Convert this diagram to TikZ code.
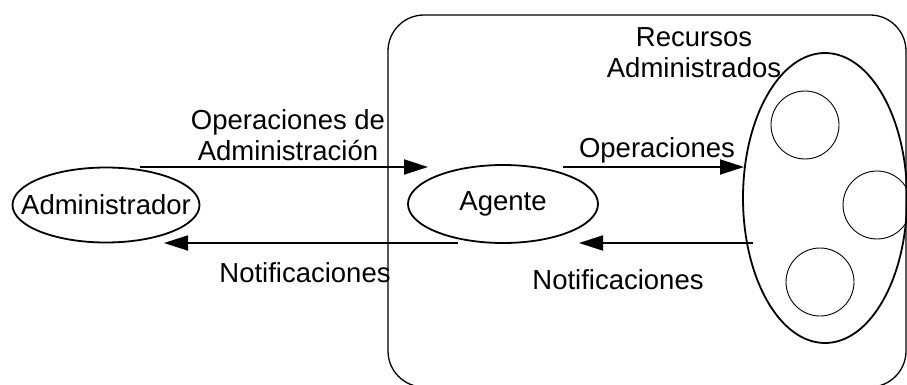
\documentclass[tikz,border=0pt]{standalone}
\usepackage{fontspec}
\setmainfont{Liberation Sans}
\usetikzlibrary{shapes.geometric,arrows.meta}
\begin{document}
\begin{tikzpicture}[x=1pt,y=-1pt,
  lbl/.style={font=\fontsize{27.5}{31}\selectfont,inner sep=0pt,align=center},
  oval/.style={draw,line width=1.8pt,ellipse,inner sep=0pt},
  res/.style={draw,line width=0.9pt,circle,inner sep=0pt,minimum size=68pt},
  arr/.style={line width=1.8pt,-{Triangle[length=24pt,width=15pt]}}]
\useasboundingbox (0,0) rectangle (907,385);
\draw[line width=1.3pt,rounded corners=36pt] (388,15) rectangle (906,387);
\node[oval,minimum width=187pt,minimum height=75pt] (adm) at (106,205) {};
\node[lbl] (admt) at (adm.center) {Administrador};
\node[oval,minimum width=190pt,minimum height=78pt] (ag) at (503,204) {};
\node[lbl] (agt) at (ag.center) {Agente};
\node[oval,minimum width=164pt,minimum height=290pt] (rec) at (825,198) {};
\node[res] (c1) at (805,125) {};
\node[res] (c2) at (877,205) {};
\node[res] (c3) at (820,282) {};
\coordinate (s1) at (140,167);
\coordinate (e1) at (428,167);
\coordinate (s2) at (458,243);
\coordinate (e2) at (164,243);
\coordinate (s3) at (563,167);
\coordinate (e3) at (744,167);
\coordinate (s4) at (753,243);
\coordinate (e4) at (579,243);
\draw[arr] (s1) -- (e1);
\draw[arr] (s2) -- (e2);
\draw[arr] (s3) -- (e3);
\draw[arr] (s4) -- (e4);
\node[lbl] (l1) at (288,135) {Operaciones de\\Administración};
\node[lbl] (l2) at (305,273) {Notificaciones};
\node[lbl] (l3) at (657,150) {Operaciones};
\node[lbl] (l4) at (618,280) {Notificaciones};
\node[lbl] (l5) at (694,53) {Recursos\\Administrados};
\end{tikzpicture}
\end{document}
